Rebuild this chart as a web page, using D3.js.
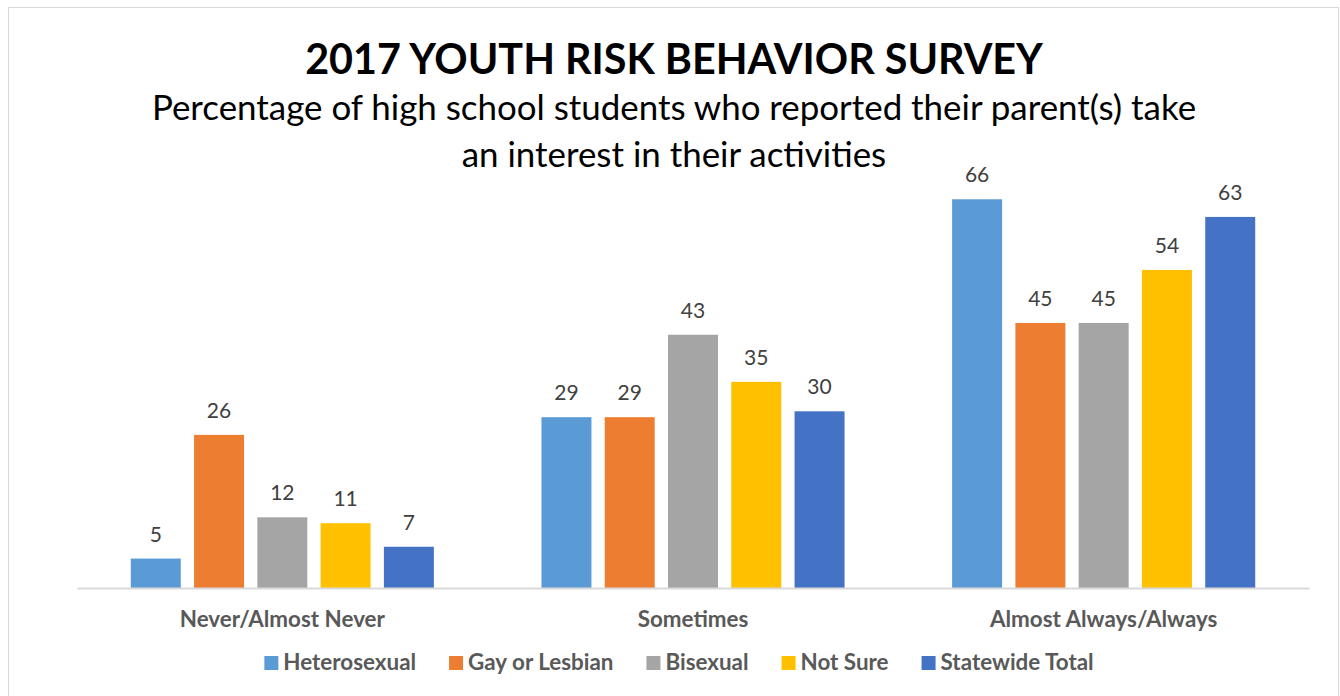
<!DOCTYPE html>
<html>
<head>
<meta charset="utf-8">
<script src="https://cdn.jsdelivr.net/npm/d3@7"></script>
<style>
  html, body { margin: 0; padding: 0; background: #ffffff; }
  svg { display: block; }
  text { font-family: Lato, "Open Sans", sans-serif; }
</style>
</head>
<body>
<svg id="chart" width="1340" height="696"></svg>
<script>
// Survey responses by frequency category
const categories = ["Never/Almost Never", "Sometimes", "Almost Always/Always"];
const seriesNames = ["Heterosexual", "Gay or Lesbian", "Bisexual", "Not Sure", "Statewide Total"];
const heterosexual   = [5, 29, 66];
const gayOrLesbian   = [26, 29, 45];
const bisexual       = [12, 43, 45];
const notSure        = [11, 35, 54];
const statewideTotal = [7, 30, 63];
const seriesColors = ["#5B9BD5", "#ED7D31", "#A5A5A5", "#FFC000", "#4472C4"];

const seriesValues = [heterosexual, gayOrLesbian, bisexual, notSure, statewideTotal];
const rows = categories.map((c, i) => ({
  category: c,
  values: seriesNames.map((s, j) => ({ series: s, value: seriesValues[j][i] }))
}));

const svg = d3.select("#chart");

// chart frame
svg.append("rect")
  .attr("x", 8.5).attr("y", 7.5)
  .attr("width", 1330).attr("height", 700)
  .attr("fill", "#ffffff")
  .attr("stroke", "#d9d9d9").attr("stroke-width", 1);

// titles
svg.append("text")
  .attr("x", 674).attr("y", 74)
  .attr("text-anchor", "middle")
  .attr("font-size", 41.3).attr("font-weight", 700)
  .attr("fill", "#000000")
  .text("2017 YOUTH RISK BEHAVIOR SURVEY");

const subtitleLines = [
  "Percentage of high school students who reported their parent(s) take",
  "an interest in their activities"
];
svg.selectAll("text.subtitle")
  .data(subtitleLines)
  .join("text")
  .attr("class", "subtitle")
  .attr("x", 674)
  .attr("y", (d, i) => 120 + i * 47)
  .attr("text-anchor", "middle")
  .attr("font-size", 34.9)
  .attr("fill", "#000000")
  .text(d => d);

// scales
const x0 = d3.scaleBand().domain(categories).range([77, 1309]).padding(0);
const x1 = d3.scaleBand().domain(seriesNames).range([0, x0.bandwidth()])
  .paddingInner(0.21).paddingOuter(0.85);
const y = d3.scaleLinear().domain([0, 70]).range([588, 588 - 70 * 5.89]);
const color = d3.scaleOrdinal().domain(seriesNames).range(seriesColors);

// bars
const groups = svg.append("g").selectAll("g")
  .data(rows)
  .join("g")
  .attr("transform", d => `translate(${x0(d.category)},0)`);

groups.selectAll("rect")
  .data(d => d.values)
  .join("rect")
  .attr("x", d => x1(d.series))
  .attr("y", d => y(d.value))
  .attr("width", x1.bandwidth())
  .attr("height", d => y(0) - y(d.value))
  .attr("fill", d => color(d.series));

// value labels
groups.selectAll("text")
  .data(d => d.values)
  .join("text")
  .attr("x", d => x1(d.series) + x1.bandwidth() / 2)
  .attr("y", d => y(d.value) - 17)
  .attr("text-anchor", "middle")
  .attr("font-size", 21)
  .attr("fill", "#404040")
  .text(d => d.value);

// category axis
const xAxis = svg.append("g")
  .attr("transform", `translate(0,${y(0)})`)
  .call(d3.axisBottom(x0).tickSize(0).tickSizeOuter(0));
xAxis.select(".domain").attr("stroke", "#d9d9d9").attr("stroke-width", 2);
xAxis.selectAll("text")
  .attr("y", 39).attr("dy", 0)
  .attr("font-family", "Lato, 'Open Sans', sans-serif")
  .attr("font-size", 22.4).attr("font-weight", 700)
  .attr("fill", "#595959");

// legend
const legend = svg.append("g");
const items = legend.selectAll("g")
  .data(seriesNames)
  .join("g");
items.append("rect")
  .attr("y", 656).attr("width", 14).attr("height", 14)
  .attr("fill", d => color(d));
items.append("text")
  .attr("x", 19).attr("y", 670)
  .attr("font-size", 22.4).attr("font-weight", 700)
  .attr("fill", "#595959")
  .text(d => d);

let offset = 0;
const positions = [];
items.each(function () {
  const w = d3.select(this).select("text").node().getComputedTextLength();
  positions.push(offset);
  offset += 19 + w + 33;
});
const legendWidth = offset - 33;
const legendStart = 679 - legendWidth / 2;
items.attr("transform", (d, i) => `translate(${legendStart + positions[i]},0)`);
</script>
</body>
</html>
